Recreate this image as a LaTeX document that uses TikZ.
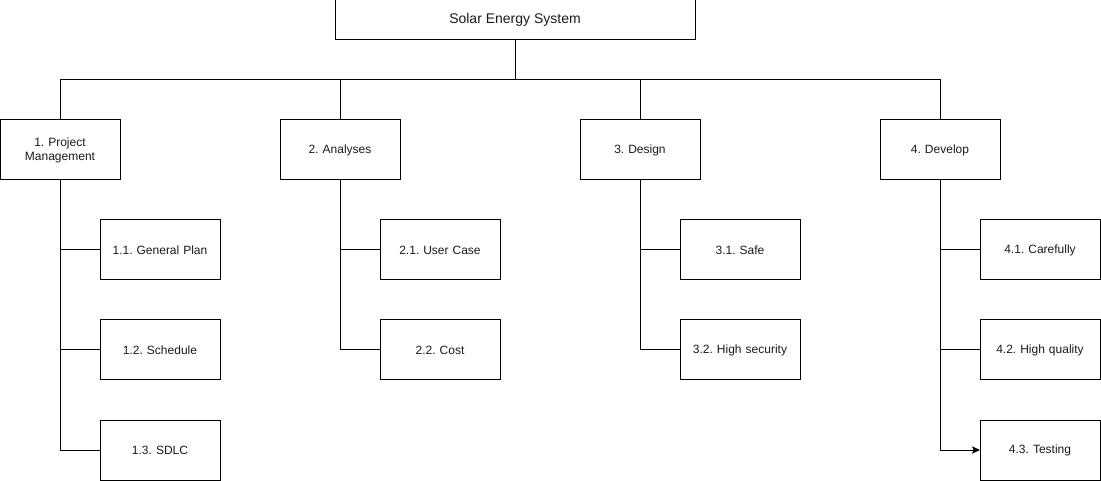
\documentclass[tikz,border=0pt]{standalone}
\usepackage{fontspec}
\setmainfont{Liberation Sans}
\usepackage{xcolor}
\usepackage{tikz}
\usetikzlibrary{arrows.meta,positioning,calc}
\definecolor{ink}{HTML}{000000}
\definecolor{textgray}{HTML}{1A1A1A}
\frenchspacing
\tikzset{
  rootnode/.style={
    draw=ink,
    line width=0.75pt,
    fill=white,
    align=center,
    minimum width=270pt,
    minimum height=30pt,
    inner sep=2pt,
    outer sep=0pt,
    text=textgray,
    font=\fontsize{10.5}{12}\selectfont
  },
  tasknode/.style={
    draw=ink,
    line width=0.75pt,
    fill=white,
    align=center,
    minimum width=90pt,
    minimum height=45pt,
    text width=80pt,
    inner sep=2pt,
    outer sep=0pt,
    text=textgray,
    font=\fontsize{9}{10.5}\selectfont
  },
  linkline/.style={line width=0.75pt,draw=ink},
  linkarrow/.style={-{Stealth[length=6pt,width=5.5pt,inset=1.2pt]},line width=0.75pt,draw=ink}
}
\begin{document}
\begin{tikzpicture}[x=0.75pt,y=-0.75pt]
  \useasboundingbox (0,0) rectangle (1101,481);
  \node[rootnode] (ses) at (515,20) {Solar Energy System};
  \node[tasknode] (pm) at (60,150) {1. Project\\Management};
  \node[tasknode, right=120pt of pm] (an) {2. Analyses};
  \node[tasknode, right=135pt of an] (ds) {3. Design};
  \node[tasknode, right=135pt of ds] (dv) {4. Develop};
  % sub tasks
  \node[tasknode, below=30pt of pm, xshift=75pt] (pm1) {1.1. General Plan};
  \node[tasknode, below=30pt of pm1] (pm2) {1.2. Schedule};
  \node[tasknode, below=30pt of pm2] (pm3) {1.3. SDLC};
  \node[tasknode, below=30pt of an, xshift=75pt] (an1) {2.1. User Case};
  \node[tasknode, below=30pt of an1] (an2) {2.2. Cost};
  \node[tasknode, below=30pt of ds, xshift=75pt] (ds1) {3.1. Safe};
  \node[tasknode, below=30pt of ds1] (ds2) {3.2. High security};
  \node[tasknode, below=30pt of dv, xshift=75pt] (dv1) {4.1. Carefully};
  \node[tasknode, below=30pt of dv1] (dv2) {4.2. High quality};
  \node[tasknode, below=30pt of dv2] (dv3) {4.3. Testing};
  % bus
  \coordinate (bus) at (515,80);
  \draw[linkline] (ses.south) -- (bus) -| (pm.north);
  \draw[linkline] (bus) -| (dv.north);
  \draw[linkline] (an.north) -- (an.north |- bus);
  \draw[linkline] (ds.north) -- (ds.north |- bus);
  % branches
  \draw[linkline] (pm.south) |- (pm1.west);
  \draw[linkline] (pm.south) |- (pm2.west);
  \draw[linkline] (pm.south) |- (pm3.west);
  \draw[linkline] (an.south) |- (an1.west);
  \draw[linkline] (an.south) |- (an2.west);
  \draw[linkline] (ds.south) |- (ds1.west);
  \draw[linkline] (ds.south) |- (ds2.west);
  \draw[linkline] (dv.south) |- (dv1.west);
  \draw[linkline] (dv.south) |- (dv2.west);
  \draw[linkarrow] (dv.south) |- (dv3.west);
\end{tikzpicture}
\end{document}
